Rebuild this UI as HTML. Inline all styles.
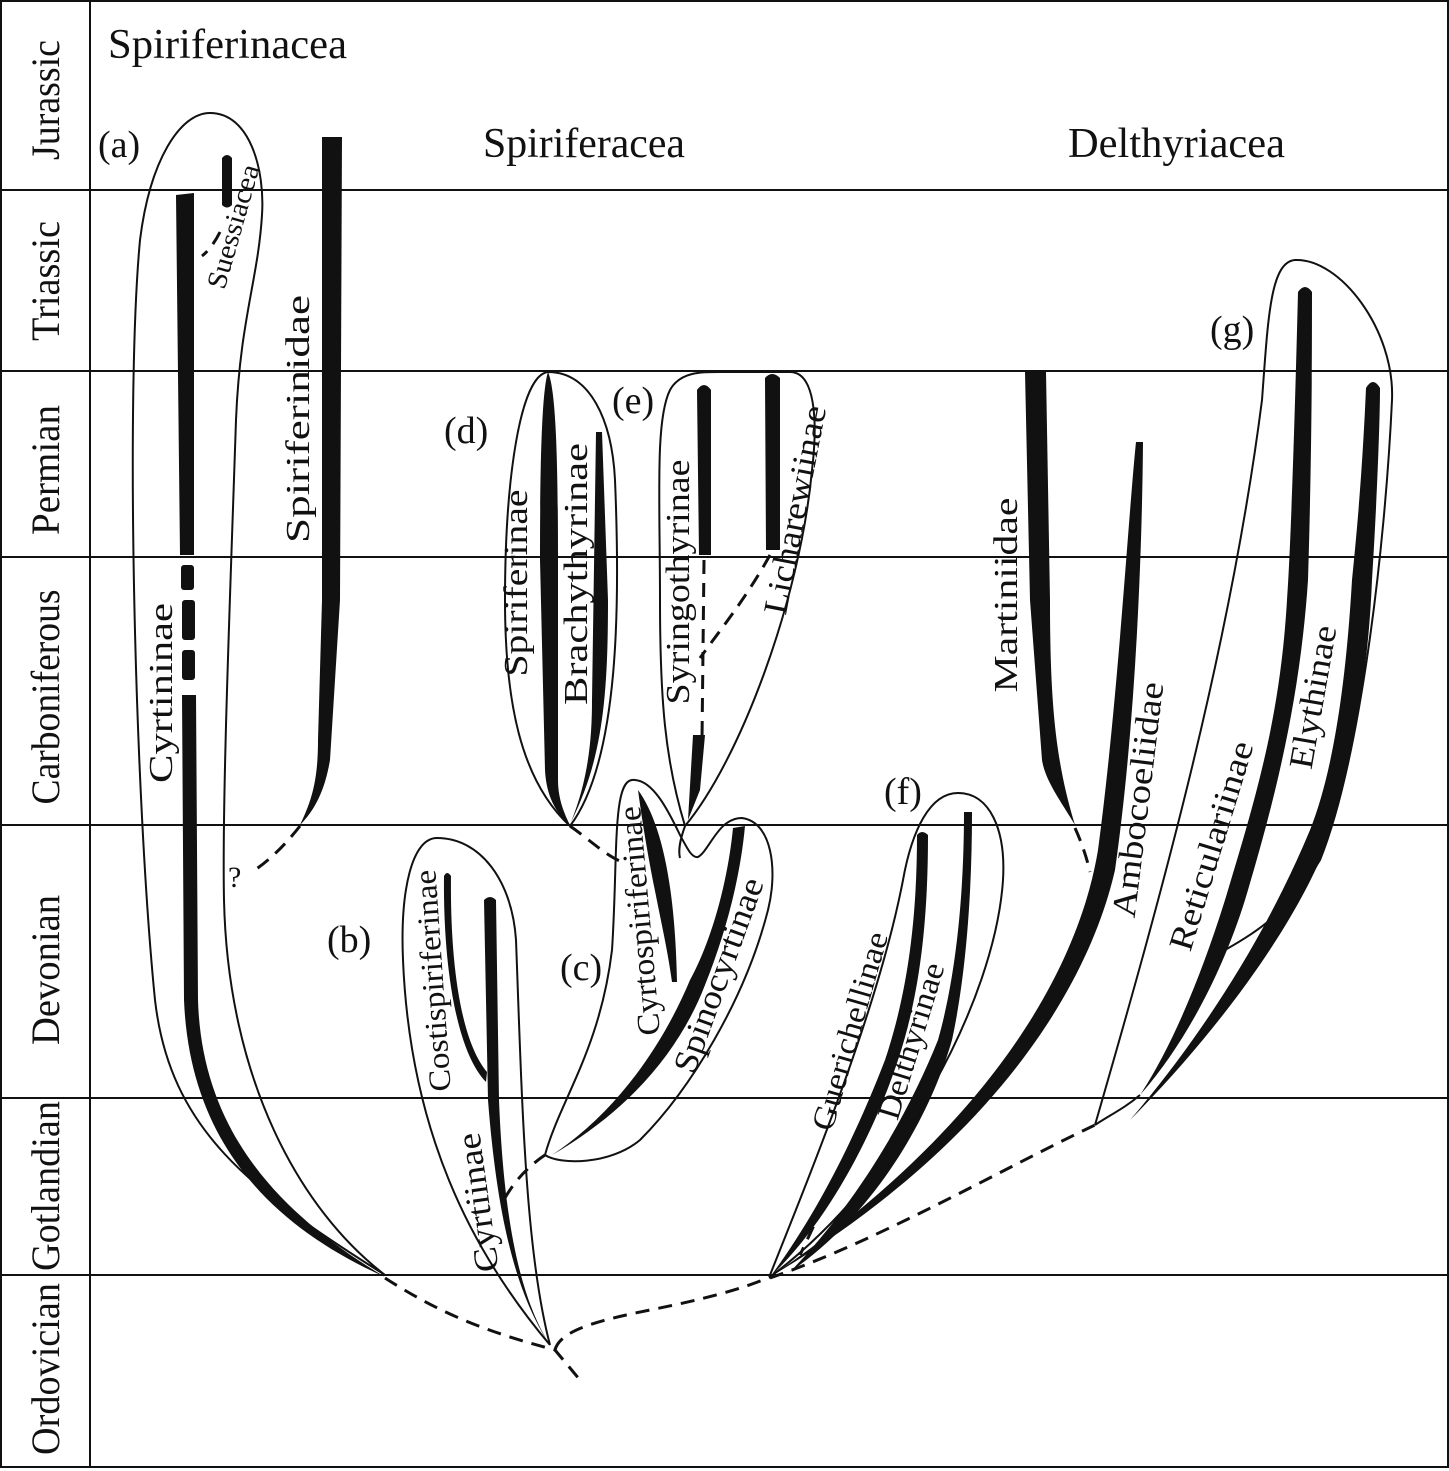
<!DOCTYPE html>
<html><head><meta charset="utf-8"><style>
html,body{margin:0;padding:0;background:#fff}
svg{display:block}
text{font-family:"Liberation Serif",serif;fill:#111}
</style></head><body>
<svg width="1449" height="1471" viewBox="0 0 1449 1471" xmlns="http://www.w3.org/2000/svg">
<rect x="1" y="1" width="1447" height="1466" fill="none" stroke="#111" stroke-width="2"/>
<g stroke="#111" stroke-width="2">
<line x1="90" y1="0" x2="90" y2="1468"/>
<line x1="0" y1="190" x2="1449" y2="190"/>
<line x1="0" y1="371" x2="1449" y2="371"/>
<line x1="0" y1="557" x2="1449" y2="557"/>
<line x1="0" y1="825" x2="1449" y2="825"/>
<line x1="0" y1="1098" x2="1449" y2="1098"/>
<line x1="0" y1="1275" x2="1449" y2="1275"/>
</g>
<g font-size="40" text-anchor="middle">
<text transform="translate(59,100) rotate(-90)" textLength="120" lengthAdjust="spacingAndGlyphs">Jurassic</text>
<text transform="translate(59,281) rotate(-90)" textLength="120" lengthAdjust="spacingAndGlyphs">Triassic</text>
<text transform="translate(59,470) rotate(-90)" textLength="130" lengthAdjust="spacingAndGlyphs">Permian</text>
<text transform="translate(59,697) rotate(-90)" textLength="215" lengthAdjust="spacingAndGlyphs">Carboniferous</text>
<text transform="translate(59,970) rotate(-90)" textLength="150" lengthAdjust="spacingAndGlyphs">Devonian</text>
<text transform="translate(59,1186) rotate(-90)" textLength="170" lengthAdjust="spacingAndGlyphs">Gotlandian</text>
<text transform="translate(59,1369) rotate(-90)" textLength="172" lengthAdjust="spacingAndGlyphs">Ordovician</text>
</g>
<g font-size="42">
<text x="108" y="58" textLength="239" lengthAdjust="spacingAndGlyphs">Spiriferinacea</text>
<text x="483" y="157" textLength="202" lengthAdjust="spacingAndGlyphs">Spiriferacea</text>
<text x="1068" y="157" textLength="217" lengthAdjust="spacingAndGlyphs">Delthyriacea</text>
</g>
<g font-size="38">
<text x="98" y="157">(a)</text>
<text x="327" y="952">(b)</text>
<text x="560" y="980">(c)</text>
<text x="444" y="443">(d)</text>
<text x="612" y="413">(e)</text>
<text x="884" y="804">(f)</text>
<text x="1210" y="342">(g)</text>
</g>
<!-- outlines -->
<g fill="none" stroke="#111" stroke-width="2">
<path d="M385,1275 C250,1190 170,1130 155,1000 C135,800 125,400 140,240 C150,160 180,113 210,113 C250,113 265,170 262,215 C258,280 240,320 236,420 C230,600 222,800 224,900 C228,1080 300,1210 385,1275"/>
<path d="M550,1345 C470,1250 410,1130 403,960 C400,890 412,838 437,838 C480,838 512,880 516,940 C522,1100 525,1250 550,1345"/>
<path d="M545,1155 C560,1100 600,1050 612,950 C618,860 612,782 632,780 C652,778 668,810 680,835 C688,850 692,858 698,857 C710,850 718,818 742,818 C772,822 778,870 768,910 C745,1000 690,1090 640,1140 C610,1165 560,1165 545,1155 Z"/>
<path d="M570,826 C520,780 505,700 505,600 C505,480 520,375 548,372 C590,372 612,420 615,480 C620,600 620,760 570,826 Z"/>
<path d="M685,826 C665,760 660,700 660,600 C660,500 655,420 670,390 C680,372 700,372 720,372 L790,372 C815,372 818,420 812,470 C800,600 740,760 685,826 Z"/>
<path d="M770,1275 C820,1150 880,1000 903,880 C912,830 930,793 958,793 C990,793 1006,830 1003,880 C995,1000 900,1180 770,1277"/>
<path d="M1095,1125 C1160,900 1230,650 1262,400 C1268,320 1270,262 1295,260 C1340,258 1395,330 1392,400 C1385,550 1360,760 1320,860 C1290,910 1260,930 1225,950"/>
<path d="M1095,1125 C1110,1115 1125,1108 1140,1095"/>
</g>
<!-- black bars -->
<g fill="#111" stroke="none">
<path d="M176,195 L194,193 L194,555 L180,555 Z"/>
<rect x="181" y="565" width="13" height="25" rx="3"/>
<rect x="182" y="600" width="13" height="40" rx="3"/>
<rect x="182" y="650" width="13" height="30" rx="3"/>
<path d="M182,695 L196,695 L198,1000 C202,1140 290,1220 385,1277 C280,1230 190,1150 184,1000 Z"/>
<path d="M222,158 Q227,152 232,158 L232,205 Q227,210 222,205 Z"/>
<path d="M322,137 L342,137 L340,600 L330,760 C325,790 315,810 300,825 C312,800 318,780 318,740 L322,600 Z"/>
<path d="M484,900 Q490,894 496,900 L499,1100 C503,1200 515,1290 550,1345 C520,1300 498,1230 488,1100 Z"/>
<path d="M444,876 Q447,870 451,876 C450,960 460,1040 487,1072 L486,1082 C455,1050 443,960 444,876 Z"/>
<path d="M638,790 C660,820 675,880 677,982 L672,982 C665,930 650,880 638,790 Z"/>
<path d="M733,828 C728,880 712,940 690,980 C665,1040 620,1110 552,1155 C630,1110 680,1050 705,985 C725,935 740,880 745,826 Z"/>
<path d="M548,372 C556,390 558,460 558,560 L558,780 C558,800 565,815 570,825 C552,810 546,790 545,770 L540,560 C540,460 542,390 548,372 Z"/>
<path d="M596,432 L602,432 L608,600 C608,700 602,760 571,822 C588,780 592,740 592,700 Z"/>
<path d="M697,390 Q704,380 711,390 L711,555 L699,555 Z"/>
<path d="M765,378 Q772,370 780,378 L780,550 L766,550 Z"/>
<path d="M693,735 L705,735 L700,790 L688,820 Z"/>
<path d="M917,835 Q922,829 928,835 C928,930 918,1000 898,1060 C875,1130 830,1220 770,1277 C820,1210 858,1130 885,1060 C905,1000 917,930 917,835 Z"/>
<path d="M964,812 L972,812 C972,900 965,980 952,1040 C932,1110 880,1210 790,1272 C860,1200 910,1110 938,1040 C955,980 964,900 964,812 Z"/>
<path d="M1025,372 L1046,372 L1050,600 C1050,700 1055,760 1075,825 C1060,800 1045,780 1042,760 L1030,600 Z"/>
<path d="M1136,442 C1128,520 1118,700 1098,850 C1080,960 1000,1120 770,1277 C1000,1140 1090,980 1115,870 C1135,730 1142,560 1143,442 Z"/>
<path d="M1298,292 C1294,450 1290,560 1287,600 C1280,720 1255,800 1225,900 C1200,980 1170,1050 1140,1095 C1180,1050 1220,980 1245,900 C1275,800 1300,700 1308,580 C1312,450 1312,350 1312,292 Q1305,282 1298,292 Z"/>
<path d="M1366,388 C1362,480 1356,540 1352,580 C1345,700 1330,780 1310,830 C1260,950 1190,1050 1130,1120 C1200,1050 1280,950 1320,860 C1350,780 1368,680 1372,580 C1377,500 1380,420 1380,388 Q1373,376 1366,388 Z"/>
</g>
<!-- dashed lines -->
<g fill="none" stroke="#111" stroke-width="3" stroke-dasharray="14,9">
<path d="M220,232 Q212,248 202,256"/>
<path d="M300,826 C285,845 270,860 252,872"/>
<path d="M385,1278 C450,1320 500,1335 555,1350 L580,1380"/>
<path d="M555,1350 C560,1330 600,1320 650,1310 C700,1300 740,1290 770,1277"/>
<path d="M770,1278 C880,1240 1000,1170 1095,1125"/>
<path d="M570,826 C590,840 605,855 622,862"/>
<path d="M505,1198 C515,1180 530,1165 545,1155"/>
<path d="M704,560 L702,740"/>
<path d="M770,555 C745,600 720,630 700,658"/>
<path d="M1075,828 Q1085,850 1090,872"/>
<path d="M833,1185 L800,1255"/>
</g>
<path d="M685,826 C680,840 678,850 680,858" fill="none" stroke="#111" stroke-width="2"/>
<text x="228" y="887" font-size="30">?</text>
<!-- labels -->
<g font-size="34" text-anchor="middle">
<text transform="translate(172,693) rotate(-90)" textLength="180" lengthAdjust="spacingAndGlyphs">Cyrtininae</text>
<text transform="translate(242,229) rotate(-74)" font-size="28" textLength="128" lengthAdjust="spacingAndGlyphs">Suessiacea</text>
<text transform="translate(309,419) rotate(-90)" textLength="248" lengthAdjust="spacingAndGlyphs">Spiriferinidae</text>
<text transform="translate(527,583) rotate(-90)" textLength="187" lengthAdjust="spacingAndGlyphs">Spiriferinae</text>
<text transform="translate(587,574) rotate(-90)" textLength="262" lengthAdjust="spacingAndGlyphs">Brachythyrinae</text>
<text transform="translate(689,582) rotate(-90)" textLength="245" lengthAdjust="spacingAndGlyphs">Syringothyrinae</text>
<text transform="translate(806,512) rotate(-79)" textLength="212" lengthAdjust="spacingAndGlyphs">Licharewiinae</text>
<text transform="translate(443,980) rotate(-94)" font-size="31" textLength="222" lengthAdjust="spacingAndGlyphs">Costispiriferinae</text>
<text transform="translate(489,1201) rotate(-98)" textLength="140" lengthAdjust="spacingAndGlyphs">Cyrtiinae</text>
<text transform="translate(650,920) rotate(-95)" font-size="32" textLength="230" lengthAdjust="spacingAndGlyphs">Cyrtospiriferinae</text>
<text transform="translate(729,979) rotate(-70)" textLength="205" lengthAdjust="spacingAndGlyphs">Spinocyrtinae</text>
<text transform="translate(860,1034) rotate(-74)" font-size="32" textLength="205" lengthAdjust="spacingAndGlyphs">Guerichellinae</text>
<text transform="translate(921,1044) rotate(-73)" font-size="32" textLength="162" lengthAdjust="spacingAndGlyphs">Delthyrinae</text>
<text transform="translate(1017,595) rotate(-90)" textLength="195" lengthAdjust="spacingAndGlyphs">Martiniidae</text>
<text transform="translate(1149,801) rotate(-83)" textLength="237" lengthAdjust="spacingAndGlyphs">Ambocoeliidae</text>
<text transform="translate(1222,849) rotate(-73)" textLength="217" lengthAdjust="spacingAndGlyphs">Reticulariinae</text>
<text transform="translate(1324,699) rotate(-80)" textLength="145" lengthAdjust="spacingAndGlyphs">Elythinae</text>
</g>
</svg>
</body></html>
